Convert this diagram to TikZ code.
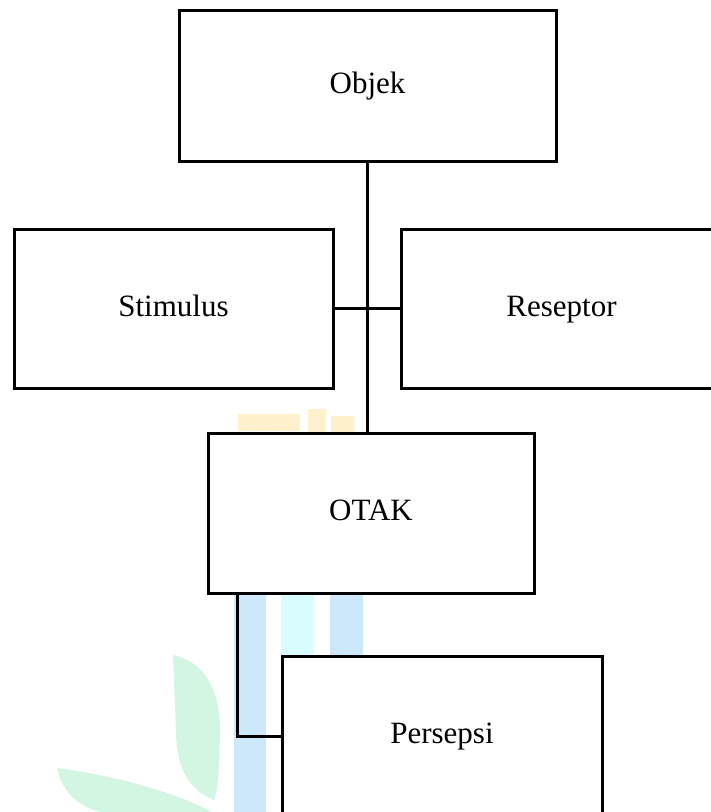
\documentclass[tikz,border=0pt]{standalone}
\usepackage{fontspec}
\setmainfont{Liberation Serif}
\definecolor{logoyellow}{HTML}{FFF1CC}
\definecolor{logoblue}{HTML}{CDE8FB}
\definecolor{logocyan}{HTML}{D9FDFF}
\definecolor{logogreen}{HTML}{D3F6E3}
\begin{document}
\begin{tikzpicture}[x=1pt,y=-1pt,
  box/.style={draw, fill=white, line width=3pt, rectangle, inner sep=0pt,
              text height=22pt, text depth=7pt,
              font=\fontsize{31}{37}\selectfont},
  link/.style={draw, line width=3pt, line join=miter},
  wmyellow/.style={fill=logoyellow},
  wmblue/.style={fill=logoblue},
  wmcyan/.style={fill=logocyan},
  wmgreen/.style={fill=logogreen}]
\useasboundingbox (0,0) rectangle (711,812);
\clip (0,0) rectangle (711,812);

% faint logo in the background
\fill[wmyellow] (238,414) rectangle (300,431);
\fill[wmyellow] (308,409) rectangle (326,433);
\fill[wmyellow] (331,416) rectangle (354,433);
\fill[wmblue] (234,593) rectangle (266,812);
\fill[wmcyan] (281,593) rectangle (314,656);
\fill[wmblue] (330,593) rectangle (363,656);
\fill[wmgreen] (173,655) .. controls (205,662) and (222,690) .. (220,740)
  .. controls (219,770) and (218,790) .. (214,800)
  .. controls (190,790) and (176,770) .. (176,730) -- cycle;
\fill[wmgreen] (57,768) .. controls (110,775) and (170,790) .. (212,812)
  -- (100,812) .. controls (75,805) and (62,790) .. cycle;

% boxes
\node[box, minimum width=377pt, minimum height=151pt] (objek) at (367.5,85.5) {Objek};
\node[box, minimum width=319pt, minimum height=159pt] (stim) at (173.5,308.5) {Stimulus};
\node[box, minimum width=321pt, minimum height=159pt] (resep) at (561.5,308.5) {Reseptor};
\node[box, minimum width=326pt, minimum height=160pt] (otak) at (371,513) {OTAK};
\node[box, minimum width=320pt, minimum height=160pt] (pers) at (442,736) {Persepsi};

% connectors
\draw[link] (objek.south) -- (objek.south |- otak.north);
\draw[link] (stim.east) -- (resep.west);
\coordinate (tap) at ([xshift=31pt]otak.south west);
\draw[link] (tap) |- (pers.west);
\end{tikzpicture}
\end{document}
